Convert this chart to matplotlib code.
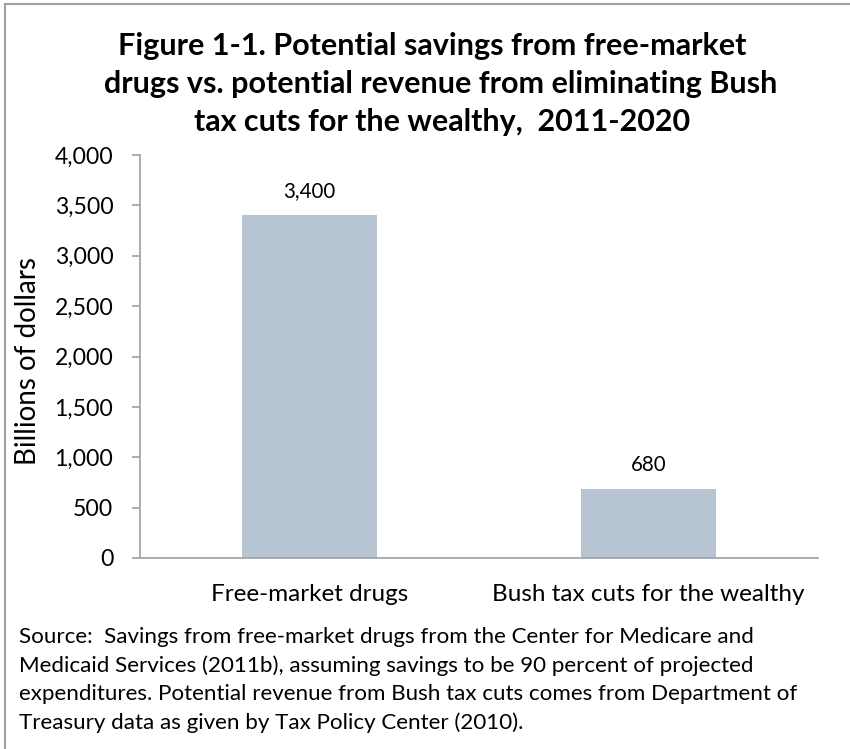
import matplotlib
matplotlib.use("Agg")
import matplotlib.pyplot as plt
from matplotlib.lines import Line2D
from matplotlib.ticker import FuncFormatter, MultipleLocator

plt.rcParams['font.family'] = ['Lato', 'DejaVu Sans']

categories = ["Free-market drugs", "Bush tax cuts for the wealthy"]
values = [3400, 680]
value_labels = ["3,400", "680"]

title_lines = ["Figure 1-1. Potential savings from free-market",
               "drugs vs. potential revenue from eliminating Bush",
               "tax cuts for the wealthy,  2011-2020"]
source_lines = ["Source:  Savings from free-market drugs from the Center for Medicare and",
                "Medicaid Services (2011b), assuming savings to be 90 percent of projected",
                "expenditures. Potential revenue from Bush tax cuts comes from Department of",
                "Treasury data as given by Tax Policy Center (2010)."]

W, H = 850, 749
fig = plt.figure(figsize=(W / 100, H / 100), dpi=100)
fig.patch.set_facecolor("white")


def px(xp, yp):
    """Pixel position (from top-left) to figure fraction."""
    return xp / W, 1 - yp / H


ax = fig.add_axes([140 / W, 1 - 558 / H, (818 - 140) / W, (558 - 155) / H])

bar_color = "#b7c4d2"
axis_color = "#a6a6a6"
x = list(range(len(categories)))
ax.bar(x, values, width=0.4, color=bar_color, zorder=2)

ax.set_xlim(-0.5, len(categories) - 0.5)
ax.set_ylim(0, 4000)
ax.yaxis.set_major_locator(MultipleLocator(500))
ax.yaxis.set_major_formatter(FuncFormatter(lambda v, p: f"{int(v):,}"))

for s in ["top", "right"]:
    ax.spines[s].set_visible(False)
for s in ["left", "bottom"]:
    ax.spines[s].set_color(axis_color)
    ax.spines[s].set_linewidth(1.3)

ax.tick_params(axis="y", direction="out", length=5.8, width=1.3, color=axis_color,
               labelsize=16.6, pad=13.5, labelcolor="#000000")
ax.tick_params(axis="x", length=0, labelsize=17.5, pad=19, labelcolor="#000000")
ax.set_xticks(x)
ax.set_xticklabels(categories)

fig.text(*px(28, 361), "Billions of dollars", rotation=90,
         ha="center", va="center", fontsize=20)

for xi, v, lab in zip(x, values, value_labels):
    ax.annotate(lab, (xi, v), xytext=(0, 13), textcoords="offset points",
                ha="center", va="baseline", fontsize=14.8)

# title, one line at a time
for (cx, base), line in zip([(432, 55), (441, 93), (442, 131)], title_lines):
    fig.text(*px(cx, base), line, ha="center", va="baseline", fontsize=22,
             fontweight="bold")

# source note
for i, line in enumerate(source_lines):
    fig.text(*px(19, 643 + 28.7 * i), line, ha="left", va="baseline", fontsize=16.1)

# frame lines on the left and top edges
fig.add_artist(Line2D([5 / W, 5 / W], [0, 1 - 4 / H], transform=fig.transFigure,
                      color="#a0a0a0", lw=1.5))
fig.add_artist(Line2D([5 / W, 1], [1 - 4 / H, 1 - 4 / H], transform=fig.transFigure,
                      color="#a0a0a0", lw=1.5))

fig.savefig("out.png", dpi=100, facecolor="white")
